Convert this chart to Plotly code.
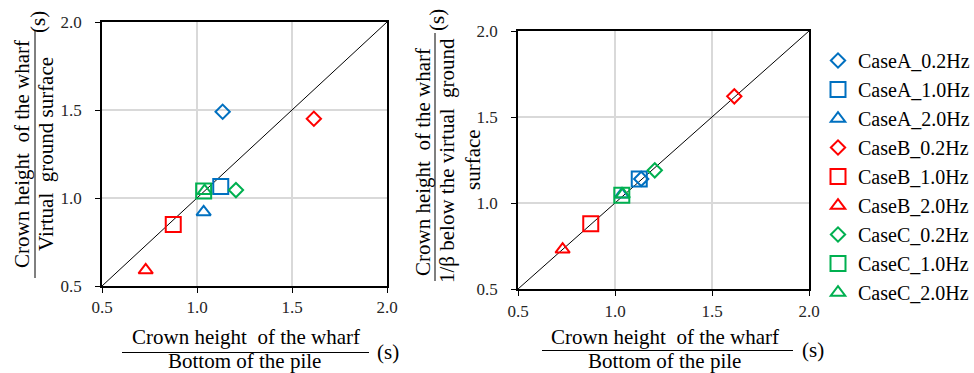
import plotly.graph_objects as go

# ---------------- data ----------------
cases = ["CaseA_0.2Hz", "CaseA_1.0Hz", "CaseA_2.0Hz",
         "CaseB_0.2Hz", "CaseB_1.0Hz", "CaseB_2.0Hz",
         "CaseC_0.2Hz", "CaseC_1.0Hz", "CaseC_2.0Hz"]
# x: Crown height of the wharf / Bottom of the pile (s)
x_pile = [1.135, 1.125, 1.035, 1.615, 0.875, 0.73, 1.205, 1.035, 1.04]
# left panel y: Crown height / Virtual ground surface (s)
y_virtual = [1.49, 1.065, 0.92, 1.45, 0.85, 0.59, 1.045, 1.04, 1.04]
# right panel y: Crown height / 1/beta below the virtual ground surface (s)
y_beta = [1.14, 1.14, 1.05, 1.62, 0.88, 0.73, 1.19, 1.045, 1.05]
diag = [0.5, 2.0]
tick_vals = [0.5, 1.0, 1.5, 2.0]
tick_text = ["0.5", "1.0", "1.5", "2.0"]

colors = {"A": "#0070C0", "B": "#FF0000", "C": "#00B050"}
symbols = {"0.2Hz": "diamond-open", "1.0Hz": "square-open", "2.0Hz": "triangle-up-open"}
sizes = {"0.2Hz": 11, "1.0Hz": 15, "2.0Hz": 12.5}

FONT = "'Times New Roman', 'Liberation Serif', serif"
W, H = 974, 373

fig = go.Figure()

for xa, ya in (("x", "y"), ("x2", "y2")):
    fig.add_trace(go.Scatter(x=diag, y=diag, mode="lines", xaxis=xa, yaxis=ya,
                             line=dict(color="black", width=1), showlegend=False,
                             hoverinfo="skip"))

for i, name in enumerate(cases):
    c = colors[name[4]]
    f = name.split("_")[1]
    mk = dict(symbol=symbols[f], size=sizes[f], color=c, line=dict(color=c, width=2))
    fig.add_trace(go.Scatter(x=[x_pile[i]], y=[y_virtual[i]], mode="markers", name=name,
                             marker=mk, xaxis="x", yaxis="y", legendgroup=name))
    fig.add_trace(go.Scatter(x=[x_pile[i]], y=[y_beta[i]], mode="markers", name=name,
                             marker=mk, xaxis="x2", yaxis="y2", legendgroup=name,
                             showlegend=False))

def px_x(p):
    return p / W

def px_y(p):
    return 1 - p / H

axis_common = dict(range=[0.5, 2.0], tickvals=tick_vals, ticktext=tick_text,
                   showline=True, mirror=True, linecolor="black", linewidth=1.5,
                   showgrid=True, gridcolor="#D9D9D9", gridwidth=1.5, zeroline=False,
                   ticks="outside", ticklen=5, tickcolor="black", tickwidth=1,
                   tickfont=dict(family=FONT, size=17, color="#262626"))

fig.update_layout(
    width=W, height=H, margin=dict(l=0, r=0, t=0, b=0, autoexpand=False),
    paper_bgcolor="white", plot_bgcolor="white",
    xaxis=dict(domain=[px_x(102), px_x(387)], anchor="y", ticklabelstandoff=0, **axis_common),
    yaxis=dict(domain=[px_y(286), px_y(22)], anchor="x", ticklabelstandoff=10, **axis_common),
    xaxis2=dict(domain=[px_x(518), px_x(809)], anchor="y2", ticklabelstandoff=1, **axis_common),
    yaxis2=dict(domain=[px_y(289), px_y(31)], anchor="x2", ticklabelstandoff=10, **axis_common),
    legend=dict(x=px_x(818), y=px_y(41), xanchor="left", yanchor="top",
                font=dict(family=FONT, size=20, color="black"),
                bgcolor="rgba(0,0,0,0)", borderwidth=0, itemwidth=30,
                tracegroupgap=0),
    showlegend=True,
)

ann = []
shapes = []

def txt(x, y, t, angle=0):
    ann.append(dict(x=px_x(x), y=px_y(y), xref="paper", yref="paper", text=t,
                    showarrow=False, textangle=angle, xanchor="center", yanchor="middle",
                    font=dict(family=FONT, size=21, color="black")))

def hline(x0, x1, y):
    shapes.append(dict(type="line", xref="paper", yref="paper", x0=px_x(x0), x1=px_x(x1),
                       y0=px_y(y), y1=px_y(y), line=dict(color="black", width=1)))

def vline(x, y0, y1):
    shapes.append(dict(type="line", xref="paper", yref="paper", x0=px_x(x), x1=px_x(x),
                       y0=px_y(y0), y1=px_y(y1), line=dict(color="black", width=1)))

NUM = "Crown height\u00a0 of the wharf"
# left x title
txt(246, 337, NUM)
hline(122, 369, 352.5)
txt(245, 361, "Bottom of the pile")
txt(388, 352, "(s)")
# right x title
txt(665, 337, NUM)
hline(542, 793, 350.5)
txt(664, 361, "Bottom of the pile")
txt(813, 350, "(s)")
# left y title
txt(22, 154, NUM, -90)
vline(35, 30, 278)
txt(46, 154, "Virtual\u00a0 ground surface", -90)
txt(38, 22, "(s)", -90)
# right y title
txt(423, 162, NUM, -90)
vline(435, 33, 281)
txt(447, 161, "1/\u03b2 below the virtual\u00a0 ground", -90)
txt(473, 160, "surface", -90)
txt(437, 20, "(s)", -90)

fig.update_layout(annotations=ann, shapes=shapes)

fig.write_html("out.html")
